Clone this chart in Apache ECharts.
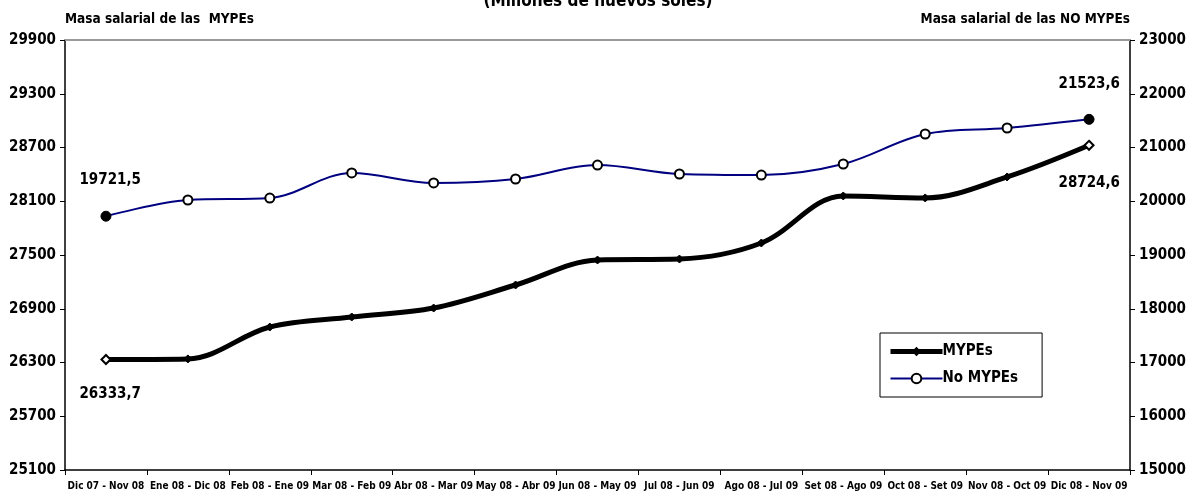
<!DOCTYPE html>
<html><head><meta charset="utf-8">
<script src="https://cdn.jsdelivr.net/npm/echarts@6/dist/echarts.min.js"></script>
<style>html,body{margin:0;padding:0;background:#fff}#c{width:1196px;height:499px}</style>
</head><body><div id="c"></div>
<script>
const categories = ["Dic 07 - Nov 08","Ene 08 - Dic 08","Feb 08 - Ene 09","Mar 08 - Feb 09","Abr 08 - Mar 09","May 08 - Abr 09","Jun 08 - May 09","Jul 08 - Jun 09","Ago 08 - Jul 09","Set 08 - Ago 09","Oct 08 - Set 09","Nov 08 - Oct 09","Dic 08 - Nov 09"];
const mypes = [26333.7, 26340, 26696, 26808, 26908, 27165, 27444, 27455, 27634, 28159, 28137, 28371, 28724.6];
const noMypes = [19721.5, 20023, 20060, 20526, 20340, 20414, 20674, 20507, 20488, 20693, 21251, 21363, 21523.6];
const leftTicks = {min: 25100, max: 29900, interval: 600};
const rightTicks = {min: 15000, max: 23000, interval: 1000};

const FONT = "'DejaVu Sans Condensed','Liberation Sans Narrow','Arial Narrow',sans-serif";
const chart = echarts.init(document.getElementById('c'));
const last = categories.length - 1;
const fmt = v => String(v).replace('.', ',');

const mypesData = mypes.map((v, i) => {
  const d = {value: v};
  if (i === 0 || i === last) {
    d.itemStyle = {color: '#fff', borderColor: '#000', borderWidth: 2};
    d.symbolSize = 9;
    d.label = {show: true, position: i === 0 ? [-21, 33] : [-25, 36], formatter: p => fmt(p.value)};
  }
  return d;
});
const noData = noMypes.map((v, i) => {
  const d = {value: v};
  if (i === 0 || i === last) {
    d.itemStyle = {color: '#000', borderColor: '#000', borderWidth: 1};
    d.symbolSize = 10;
    d.label = {show: true, position: i === 0 ? [-21, -38] : [-25, -37], formatter: p => fmt(p.value)};
  }
  return d;
});

chart.setOption({
  animation: false,
  textStyle: {fontFamily: FONT},
  title: {
    text: '(Millones de nuevos soles)', left: 'center', top: -12,
    textStyle: {fontFamily: FONT, fontSize: 17, fontWeight: 'bold', color: '#000'}
  },
  legend: {
    left: 880, top: 333, orient: 'vertical', itemGap: 12,
    itemWidth: 52, itemHeight: 12,
    backgroundColor: '#fff', borderColor: '#000', borderWidth: 1, padding: [11, 24, 11, 8],
    textStyle: {fontFamily: FONT, fontSize: 15, fontWeight: 'bold', color: '#000', padding: [0, 0, 0, -5]},
    data: [
      {name: 'MYPEs', lineStyle: {width: 5, color: '#000'}},
      {name: 'No MYPEs', lineStyle: {width: 2, color: '#000080'}}
    ]
  },
  grid: {left: 65, right: 66, top: 40, bottom: 29},
  xAxis: {
    type: 'category', data: categories, boundaryGap: true,
    axisLine: {lineStyle: {color: '#000', width: 1.5}},
    axisTick: {show: true, length: 5, lineStyle: {color: '#000'}},
    axisLabel: {interval: 0, fontFamily: FONT, fontSize: 10, fontWeight: 'bold', color: '#000', margin: 11}
  },
  yAxis: [
    {
      type: 'value', min: leftTicks.min, max: leftTicks.max, interval: leftTicks.interval,
      name: 'Masa salarial de las  MYPEs', nameLocation: 'end', nameGap: 14,
      nameTextStyle: {fontFamily: FONT, fontSize: 13.5, fontWeight: 'bold', color: '#000', align: 'left'},
      axisLine: {show: true, lineStyle: {color: '#000', width: 1.5}},
      axisTick: {show: true, length: 5, lineStyle: {color: '#000'}},
      axisLabel: {fontFamily: FONT, fontSize: 15, fontWeight: 'bold', color: '#000', margin: 9, formatter: v => String(v)},
      splitLine: {show: false}
    },
    {
      type: 'value', min: rightTicks.min, max: rightTicks.max, interval: rightTicks.interval,
      name: 'Masa salarial de las NO MYPEs', nameLocation: 'end', nameGap: 14,
      nameTextStyle: {fontFamily: FONT, fontSize: 13.5, fontWeight: 'bold', color: '#000', align: 'right'},
      axisLine: {show: true, lineStyle: {color: '#000', width: 1.5}},
      axisTick: {show: true, length: 5, lineStyle: {color: '#000'}},
      axisLabel: {fontFamily: FONT, fontSize: 15, fontWeight: 'bold', color: '#000', margin: 9, formatter: v => String(v)},
      splitLine: {show: false}
    }
  ],
  series: [
    {
      name: 'MYPEs', type: 'line', yAxisIndex: 0, data: mypesData, smooth: 0.35,
      symbol: 'diamond', symbolSize: 8, showAllSymbol: true,
      lineStyle: {color: '#000', width: 5},
      itemStyle: {color: '#000', borderColor: '#000'},
      label: {show: false, fontFamily: FONT, fontSize: 15, fontWeight: 'bold', color: '#000'},
      z: 3
    },
    {
      name: 'No MYPEs', type: 'line', yAxisIndex: 1, data: noData, smooth: 0.35,
      symbol: 'circle', symbolSize: 9, showAllSymbol: true,
      lineStyle: {color: '#000080', width: 2},
      itemStyle: {color: '#fff', borderColor: '#000', borderWidth: 2},
      label: {show: false, fontFamily: FONT, fontSize: 15, fontWeight: 'bold', color: '#000'},
      z: 2
    }
  ],
  graphic: [
    {type: 'line', shape: {x1: 65, y1: 40, x2: 1130, y2: 40}, style: {stroke: '#999', lineWidth: 2}, z: 1}
  ]
});
</script></body></html>
